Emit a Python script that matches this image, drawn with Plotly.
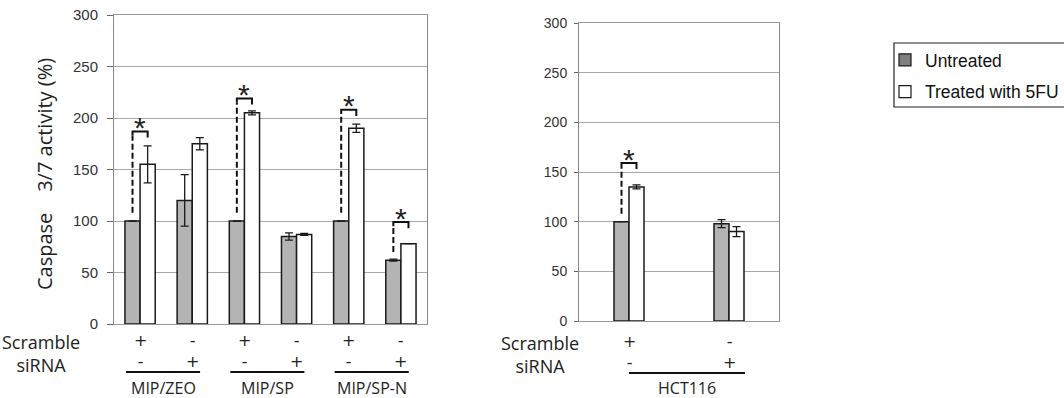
import plotly.graph_objects as go

W, H = 1064, 398

# ---------------- data ----------------
left_groups = ["MIP/ZEO", "MIP/SP", "MIP/SP-N"]
left_scramble = ["+", "-", "+", "-", "+", "-"]
left_sirna = ["-", "+", "-", "+", "-", "+"]
left_untreated = [100, 120, 100, 85, 100, 62]
left_untreated_err = [0, 25, 0, 3.5, 0, 1]
left_treated = [155, 175, 205, 87, 190, 78]
left_treated_err = [18, 6, 2, 1, 4, 0]
left_sig_idx = [0, 2, 4, 5]
left_sig_h = [187, 219, 208, 99]

right_groups = ["HCT116"]
right_scramble = ["+", "-"]
right_sirna = ["-", "+"]
right_untreated = [100, 98]
right_untreated_err = [0, 4]
right_treated = [135, 90]
right_treated_err = [2, 5]
right_sig_idx = [0]
right_sig_h = [159]

y_ticks = [0, 50, 100, 150, 200, 250, 300]
series_names = ["Untreated", "Treated with 5FU"]
row_names = ["Scramble", "siRNA"]

# ---------------- style ----------------
GRAY = "#b4b4b4"
LEG_GRAY = "#7f7f7f"
EDGE = "#1a1a1a"
LBL_FONT = "Open Sans"


def px(x):
    return x / W


def py(y):
    return 1 - y / H


fig = go.Figure()

panels = [
    dict(xa="x", ya="y", unt=left_untreated, ue=left_untreated_err, tre=left_treated,
         te=left_treated_err, sig=left_sig_idx, sh=left_sig_h, w=0.29),
    dict(xa="x2", ya="y2", unt=right_untreated, ue=right_untreated_err, tre=right_treated,
         te=right_treated_err, sig=right_sig_idx, sh=right_sig_h, w=0.15),
]

annotations = []
shapes = []

for p in panels:
    n = len(p["unt"])
    xs = list(range(n))
    w = p["w"]
    fig.add_trace(go.Bar(
        x=xs, y=p["unt"], width=w, offset=-w, xaxis=p["xa"], yaxis=p["ya"],
        marker=dict(color=GRAY, line=dict(color=EDGE, width=1.5)),
        error_y=dict(type="data", array=p["ue"], color=EDGE, thickness=1.3, width=4),
        showlegend=False, name=series_names[0]))
    fig.add_trace(go.Bar(
        x=xs, y=p["tre"], width=w, offset=0, xaxis=p["xa"], yaxis=p["ya"],
        marker=dict(color="white", line=dict(color=EDGE, width=1.5)),
        error_y=dict(type="data", array=p["te"], color=EDGE, thickness=1.3, width=4),
        showlegend=False, name=series_names[1]))

    # significance brackets
    dx, dy, sx, sy = [], [], [], []
    for i, h in zip(p["sig"], p["sh"]):
        x1 = i - w / 2
        x2 = i + w / 2
        u = p["unt"][i]
        dx += [x1, x1, None]
        dy += [u + 8, h - 4, None]
        sx += [x1, x1, x2, x2, None]
        sy += [h - 4, h, h, h - 6, None]
        annotations.append(dict(x=i, y=h, xref=p["xa"], yref=p["ya"], text="*",
                                showarrow=False, yanchor="middle", yshift=4,
                                font=dict(family="Liberation Sans, Arial", size=30,
                                          color="#222")))
    fig.add_trace(go.Scatter(x=dx, y=dy, mode="lines", xaxis=p["xa"], yaxis=p["ya"],
                             line=dict(color="#111", width=2, dash="6px,3px"),
                             showlegend=False, hoverinfo="skip"))
    fig.add_trace(go.Scatter(x=sx, y=sy, mode="lines", xaxis=p["xa"], yaxis=p["ya"],
                             line=dict(color="#111", width=2),
                             showlegend=False, hoverinfo="skip"))

# legend-only traces
fig.add_trace(go.Bar(x=[None], y=[None], name=series_names[0], legendgroup="a",
                     marker=dict(color=LEG_GRAY, line=dict(color=EDGE, width=1.2))))
fig.add_trace(go.Bar(x=[None], y=[None], name=series_names[1], legendgroup="b",
                     marker=dict(color="white", line=dict(color=EDGE, width=1.2))))

# legend frame
shapes.append(dict(type="rect", xref="paper", yref="paper", x0=px(894), x1=px(1075),
                   y0=py(107), y1=py(43), line=dict(color="#222", width=1.2)))

# ------------- x-axis condition labels -------------
def cond_labels(xa, scr, sir, y_center, x_names):
    for i, (a, b) in enumerate(zip(scr, sir)):
        annotations.append(dict(x=i, y=py(y_center), xref=xa, yref="paper",
                                text=a + "<br>" + b,
                                showarrow=False, xanchor="center", yanchor="middle",
                                font=dict(family="DejaVu Sans", size=16, color="#222")))
    annotations.append(dict(x=px(x_names), y=py(y_center + 2), xref="paper", yref="paper",
                            text="<br>".join(row_names), showarrow=False, xanchor="center",
                            yanchor="middle", align="center",
                            font=dict(family=LBL_FONT, size=18, color="#222")))


cond_labels("x", left_scramble, left_sirna, 351, 41)
cond_labels("x2", right_scramble, right_sirna, 352, 540)

# group underlines + names
for g, name in enumerate(left_groups):
    a, b = 2 * g, 2 * g + 1
    x0, x1 = a - 0.27, b + 0.15
    shapes.append(dict(type="line", xref="x", yref="paper", x0=x0, x1=x1,
                       y0=py(372), y1=py(372), line=dict(color="#111", width=2)))
    annotations.append(dict(x=(x0 + x1) / 2, y=py(388), xref="x", yref="paper", text=name,
                            showarrow=False, xanchor="center", yanchor="middle",
                            font=dict(family=LBL_FONT, size=16, color="#222")))
for g, name in enumerate(right_groups):
    x0, x1 = 0.0, 1.16
    shapes.append(dict(type="line", xref="x2", yref="paper", x0=x0, x1=x1,
                       y0=py(373), y1=py(373), line=dict(color="#111", width=2)))
    annotations.append(dict(x=(x0 + x1) / 2, y=py(388), xref="x2", yref="paper", text=name,
                            showarrow=False, xanchor="center", yanchor="middle",
                            font=dict(family=LBL_FONT, size=16, color="#222")))

# y-axis title (left panel)
annotations.append(dict(x=px(44), y=py(174), xref="paper", yref="paper",
                        text="Caspase    3/7 activity (%)", textangle=-90, showarrow=False,
                        xanchor="center", yanchor="middle",
                        font=dict(family=LBL_FONT, size=20, color="#222")))

axis_common = dict(showgrid=False, zeroline=False, showticklabels=False, ticks="",
                   showline=True, mirror=True, linecolor="#999", linewidth=1,
                   automargin=False)
yaxis_common = dict(range=[0, 300], tickvals=y_ticks, showgrid=True, gridcolor="#a8a8a8",
                    gridwidth=1, zeroline=False, showline=True, mirror=True,
                    linecolor="#888", linewidth=1, ticks="outside", tickcolor="#666",
                    automargin=False)

fig.update_layout(
    width=W, height=H, margin=dict(l=0, r=0, t=0, b=0, autoexpand=False),
    paper_bgcolor="white", plot_bgcolor="white",
    barmode="overlay",
    xaxis=dict(domain=[px(114), px(427)], range=[-0.5, 5.5], anchor="y", **axis_common),
    yaxis=dict(domain=[py(324), py(15)], anchor="x", ticklen=6, ticklabelstandoff=6,
               tickfont=dict(family="Arial", size=15, color="#333"), **yaxis_common),
    xaxis2=dict(domain=[px(579), px(779)], range=[-0.5, 1.5], anchor="y2", **axis_common),
    yaxis2=dict(domain=[py(321), py(23)], anchor="x2", ticklen=4, ticklabelstandoff=4,
                tickfont=dict(family="Arial", size=14, color="#333"), **yaxis_common),
    legend=dict(x=px(893), y=py(42), xanchor="left", yanchor="top",
                borderwidth=0, bgcolor="rgba(0,0,0,0)",
                font=dict(family="Arial", size=17.5, color="#111"),
                tracegroupgap=6, indentation=-8, traceorder="grouped"),
    annotations=annotations, shapes=shapes,
    showlegend=True,
)

fig.write_html("out.html")
